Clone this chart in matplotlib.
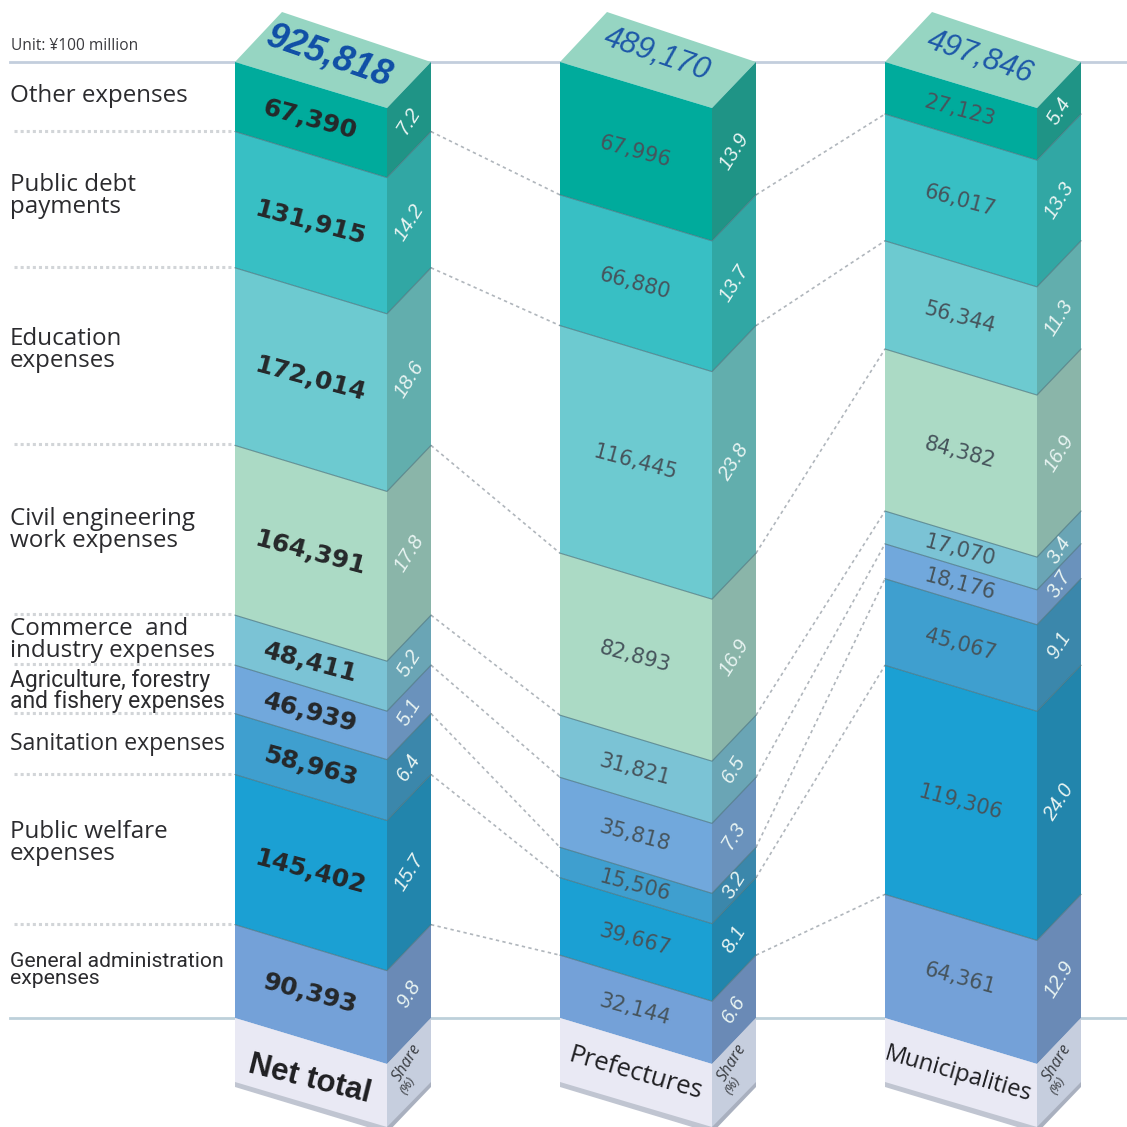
import matplotlib
matplotlib.use('Agg')
import matplotlib.pyplot as plt
from matplotlib.patches import Polygon
import numpy as np

categories = ['Other expenses', 'Public debt\npayments', 'Education\nexpenses',
              'Civil engineering\nwork expenses', 'Commerce  and\nindustry expenses',
              'Agriculture, forestry\nand fishery expenses', 'Sanitation expenses',
              'Public welfare\nexpenses', 'General administration\nexpenses']

column_names = ['Net total', 'Prefectures', 'Municipalities']
totals = [925818, 489170, 497846]
total_labels = ['925,818', '489,170', '497,846']

net_values = [67390, 131915, 172014, 164391, 48411, 46939, 58963, 145402, 90393]
net_shares = [7.2, 14.2, 18.6, 17.8, 5.2, 5.1, 6.4, 15.7, 9.8]
pref_values = [67996, 66880, 116445, 82893, 31821, 35818, 15506, 39667, 32144]
pref_shares = [13.9, 13.7, 23.8, 16.9, 6.5, 7.3, 3.2, 8.1, 6.6]
muni_values = [27123, 66017, 56344, 84382, 17070, 18176, 45067, 119306, 64361]
muni_shares = [5.4, 13.3, 11.3, 16.9, 3.4, 3.7, 9.1, 24.0, 12.9]

front_colors = ['#00ab9c', '#38bfc4', '#6dcad0', '#abdac5', '#7bc3d5',
                '#71a8dc', '#3f9fcf', '#1ba0d3', '#74a1d8']
side_colors = ['#1f9486', '#31a7a4', '#62aead', '#8ab5a9', '#6aa5b5',
               '#6a92bc', '#3b87ab', '#2285ac', '#6a8ab6']

# geometry of the drawing, in pixels of the picture
TOP = 62
BOTTOM = 1018
FRONT_W = 152
SIDE_W = 44
DROP = 46
LEFTS = [235, 560, 885]

plt.rcParams['font.family'] = ['Open Sans', 'DejaVu Sans']

fig = plt.figure(figsize=(11.27, 11.27), dpi=100)
ax = fig.add_axes([0, 0, 1, 1])
ax.set_xlim(0, 1127)
ax.set_ylim(1127, 0)
ax.axis('off')


def levels(values, total):
    return TOP + np.concatenate([[0], np.cumsum(values)]) * (BOTTOM - TOP) / total


all_values = [net_values, pref_values, muni_values]
all_shares = [net_shares, pref_shares, muni_shares]
all_levels = [levels(v, t) for v, t in zip(all_values, totals)]

# horizontal rules behind the columns
for y, c in [(TOP, '#c3cedd'), (BOTTOM, '#bdd0da')]:
    ax.plot([10, 1127], [y, y], color=c, lw=2, zorder=1)

# dotted leaders on the left
for y in all_levels[0][1:-1]:
    ax.plot([14, 233], [y - 1, y - 1], color='#d2d5d8', lw=2.2, ls=(0, (1, 1)), zorder=1)

# dotted connectors between the columns
for k in range(2):
    x0 = LEFTS[k] + FRONT_W + SIDE_W
    x1 = LEFTS[k + 1]
    for y0, y1 in zip(all_levels[k][1:-1], all_levels[k + 1][1:-1]):
        ax.plot([x0, x1], [y0, y1], color='#b0b6bc', lw=1.2, ls=(0, (2, 2)), zorder=1)


def draw_column(k):
    x0 = LEFTS[k]
    x1 = x0 + FRONT_W
    x2 = x1 + SIDE_W
    ys = all_levels[k]
    values = all_values[k]
    shares = all_shares[k]

    # top face
    ax.add_patch(Polygon([(x0, TOP), (x0 + 47, 12), (x2, TOP), (x1, TOP + DROP)],
                         fc='#96d5c2', ec='none', zorder=3))
    for i in range(len(values)):
        y0, y1 = ys[i], ys[i + 1]
        ax.add_patch(Polygon([(x0, y0), (x1, y0 + DROP), (x1, y1 + DROP), (x0, y1)],
                             fc=front_colors[i], ec='none', zorder=3))
        ax.add_patch(Polygon([(x1, y0 + DROP), (x2, y0), (x2, y1), (x1, y1 + DROP)],
                             fc=side_colors[i], ec='none', zorder=3))
        if i > 0:
            ax.plot([x0, x1, x2], [y0, y0 + DROP, y0], color='#46707a', lw=0.8, alpha=0.7, zorder=4)
        mid = (y0 + y1) / 2 + DROP / 2
        if k == 0:
            ax.text(x0 + 75, mid, f'{values[i]:,}', rotation=-15, rotation_mode='anchor',
                    ha='center', va='center', fontsize=18, fontweight='bold',
                    family='DejaVu Sans', color='#25282a', zorder=5)
        else:
            ax.text(x0 + 75, mid, f'{values[i]:,}', rotation=-15, rotation_mode='anchor',
                    ha='center', va='center', fontsize=15, family='DejaVu Sans',
                    color='#46545c', zorder=5)
        ax.text(x1 + 22, mid, f'{shares[i]:.1f}', rotation=58, rotation_mode='anchor',
                ha='center', va='center', fontsize=14.5, style='italic', family='Liberation Sans',
                color='#e8f4f2', zorder=5)

    # label block under the column
    ax.add_patch(Polygon([(x0, BOTTOM), (x1, BOTTOM + DROP), (x1, 1133), (x0, 1087)],
                         fc='#c0c5d1', ec='none', zorder=2))
    ax.add_patch(Polygon([(x0, BOTTOM), (x1, BOTTOM + DROP), (x1, 1127), (x0, 1082)],
                         fc='#e9e9f4', ec='none', zorder=3))
    ax.add_patch(Polygon([(x1, BOTTOM + DROP), (x2, BOTTOM), (x2, 1087), (x1, 1133)],
                         fc='#a9b0bf', ec='none', zorder=2))
    ax.add_patch(Polygon([(x1, BOTTOM + DROP), (x2, BOTTOM), (x2, 1082), (x1, 1127)],
                         fc='#c6cede', ec='none', zorder=3))
    ax.text(x1 + 20, 1063, 'Share', rotation=58, rotation_mode='anchor', ha='center', va='center',
            fontsize=11.5, style='italic', color='#3a3d42', zorder=5)
    ax.text(x1 + 21, 1085, '(%)', rotation=58, rotation_mode='anchor', ha='center', va='center',
            fontsize=9.5, style='italic', color='#3a3d42', zorder=5)


for k in range(3):
    draw_column(k)

# totals on the top faces
ax.text(LEFTS[0] + 94, 56, total_labels[0], rotation=-19, rotation_mode='anchor', ha='center', va='center',
        fontsize=26, fontweight='bold', style='italic', family='Liberation Sans', color='#0f4ea6', zorder=5)
ax.text(LEFTS[1] + 97, 55, total_labels[1], rotation=-19, rotation_mode='anchor', ha='center', va='center',
        fontsize=22, style='italic', family='Liberation Sans', color='#1d58a8', zorder=5)
ax.text(LEFTS[2] + 95, 58, total_labels[2], rotation=-19, rotation_mode='anchor', ha='center', va='center',
        fontsize=22, style='italic', family='Liberation Sans', color='#1d58a8', zorder=5)

# column names
ax.text(LEFTS[0] + 75, 1079, column_names[0], rotation=-14, rotation_mode='anchor', ha='center', va='center',
        fontsize=22.5, fontweight='bold', family='Liberation Sans', color='#1f1f22', zorder=5)
ax.text(LEFTS[1] + 76, 1074, column_names[1], rotation=-16, rotation_mode='anchor', ha='center', va='center',
        fontsize=18.5, color='#1f1f22', zorder=5)
ax.text(LEFTS[2] + 73, 1074, column_names[2], rotation=-16, rotation_mode='anchor', ha='center', va='center',
        fontsize=17, color='#1f1f22', zorder=5)

# category labels on the left
label_y = [96, 196, 350, 530, 640, 691, 744, 843, 970]
label_size = [17.4, 17.4, 17.4, 17.4, 17.4, 16.5, 16.6, 17.4, 15.2]
label_font = ['Open Sans'] * 5 + ['Roboto', 'Open Sans', 'Open Sans', 'Roboto']
for name, y, s, f in zip(categories, label_y, label_size, label_font):
    ax.text(10, y, name, ha='left', va='center', fontsize=s, family=f, linespacing=0.85,
            color='#2b2b2e', zorder=5)

ax.text(11, 46, 'Unit: ¥100 million', ha='left', va='center', fontsize=11.2, color='#3a3a3e', zorder=5)

plt.savefig('out.png', dpi=100)
